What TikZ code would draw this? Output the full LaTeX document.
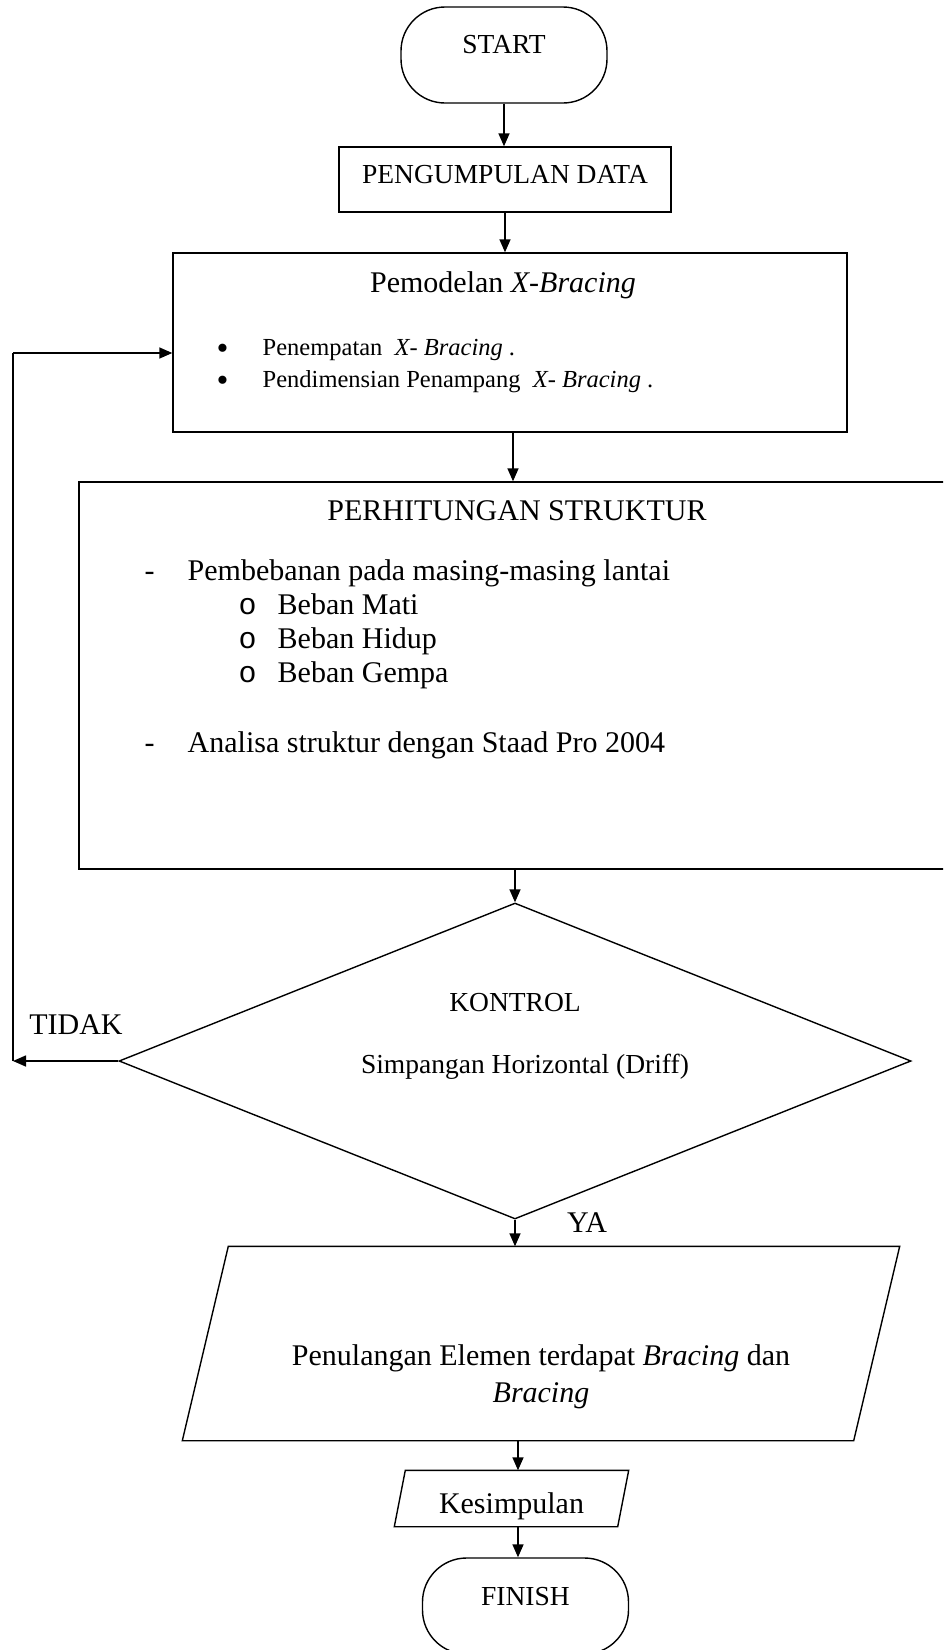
\documentclass[tikz,border=0pt]{standalone}
\usepackage{fontspec}
\setmainfont{Liberation Serif}
\newfontfamily\cour{Liberation Mono}
\usepackage{tikz}
\usetikzlibrary{shapes.geometric,arrows.meta,calc}

\newcommand{\fbig}{\fontsize{15}{18.5}\selectfont}
\newcommand{\fmid}{\fontsize{13.75}{16}\selectfont}
\newcommand{\fsml}{\fontsize{12.25}{15}\selectfont}
\newcommand{\bigdot}{\makebox[23pt][l]{\fontsize{17}{17}\selectfont\raisebox{-2pt}{\textbullet}}}
\newcommand{\subdot}{\makebox[19.5pt][l]{\cour o}}

\begin{document}
\begin{tikzpicture}[x=0.5pt, y=-0.5pt, line width=0.7pt,
  arr/.style={-{Triangle[length=6.5pt,width=5.5pt]}, line width=0.75pt},
  term/.style={draw, rounded corners=22pt, minimum width=103pt, minimum height=48pt,
               inner sep=0pt, font=\fmid, text height=9pt},
  box/.style={draw, inner sep=0pt},
  txt/.style={anchor=base, inner sep=0pt},
  ltxt/.style={anchor=base west, inner sep=0pt},
  ]

\useasboundingbox (0,0) rectangle (943,1650);
\clip (0,0) rectangle (943,1650);

% === start and data
\node[term, text depth=11pt] (start) at (504,55) {START};
\node[box, minimum width=166pt, minimum height=32.5pt, font=\fmid,
      text height=9pt, text depth=5.5pt] (data) at (505,179.5) {PENGUMPULAN DATA};

% === modelling box
\node[box, minimum width=337pt, minimum height=89.5pt] (model) at (510,342.5) {};
\node[txt, font=\fbig] (mtitle) at (503,292) {Pemodelan \textit{X-Bracing}};
\node[ltxt, font=\fsml] (mb1) at (216,355)
  {\bigdot Penempatan\ \ \textit{X- Bracing} .};
\node[ltxt, font=\fsml] (mb2) at (216,387)
  {\bigdot Pendimensian Penampang\ \ \textit{X- Bracing} .};

% === structural calculation box
\node[box, minimum width=438pt, minimum height=193.5pt] (calc) at (517,675.5) {};
\node[txt, font=\fbig] (ctitle) at (517,520) {PERHITUNGAN STRUKTUR};
\node[ltxt, font=\fbig] (c1) at (144,580) {\makebox[21.5pt][l]{-}Pembebanan pada masing-masing lantai};
\node[ltxt, font=\fbig] (c2) at (238,614) {\subdot Beban Mati};
\node[ltxt, font=\fbig] (c3) at (238,648) {\subdot Beban Hidup};
\node[ltxt, font=\fbig] (c4) at (238,682) {\subdot Beban Gempa};
\node[ltxt, font=\fbig] (c5) at (144,752) {\makebox[21.5pt][l]{-}Analisa struktur dengan Staad Pro 2004};

% === control
\node[draw, diamond, aspect=2.5, minimum width=396pt, minimum height=158pt,
      inner sep=0pt] (ctrl) at (515,1061) {};
\node[txt, font=\fmid] (ktitle) at (515,1011) {KONTROL};
\node[txt, font=\fmid] (kdesc) at (525,1073) {Simpangan Horizontal (Driff)};
\node[txt, font=\fbig] (no) at (76,1034) {TIDAK};
\node[txt, font=\fbig] (yes) at (587,1232) {YA};

% === output
\node[minimum width=335pt, minimum height=96.5pt, inner sep=0pt] (out) at (541,1343.5) {};
\draw ($(out.north west)+(23,0)$) -- ($(out.north east)+(23,0)$)
  -- ($(out.south east)+(-23,0)$) -- ($(out.south west)+(-23,0)$) -- cycle;
\node[font=\fbig, align=center, inner sep=0pt] (outtxt) at (541,1376.5)
  {Penulangan Elemen terdapat \textit{Bracing} dan\\\textit{Bracing}};

\node[minimum width=111pt, minimum height=27.5pt, inner sep=0pt, font=\fbig,
      text height=18pt, text depth=3.5pt] (kes) at (511.5,1498.5) {Kesimpulan};
\draw ($(kes.north west)+(5.5,0)$) -- ($(kes.north east)+(5.5,0)$)
  -- ($(kes.south east)+(-5.5,0)$) -- ($(kes.south west)+(-5.5,0)$) -- cycle;

\node[term, text depth=10pt] (finish) at (525.5,1606) {FINISH};

% === connectors
\draw[arr] (start.south) -- (start.south |- data.north);
\draw[arr] (data.south) -- (data.south |- model.north);
\draw[arr] ($(model.south)+(3,0)$) -- ($(model.south |- calc.north)+(3,0)$);
\draw[arr] (calc.south -| ctrl.north) -- (ctrl.north);
\draw[arr] (ctrl.south) -- (ctrl.south |- out.north);
\draw[arr] ($(kes.north |- out.south)+(6.5,0)$) -- ($(kes.north)+(6.5,0)$);
\draw[arr] ($(kes.south)+(6.5,0)$) -- ($(kes.south |- finish.north)+(6.5,0)$);

% === back to modelling
\coordinate (backB) at (13,1061);
\coordinate (backT) at (13,353);
\draw[arr] (ctrl.west) -- (backB);
\draw (backB) -- (backT);
\draw[arr] (backT) -- (backT -| model.west);

\end{tikzpicture}
\end{document}
